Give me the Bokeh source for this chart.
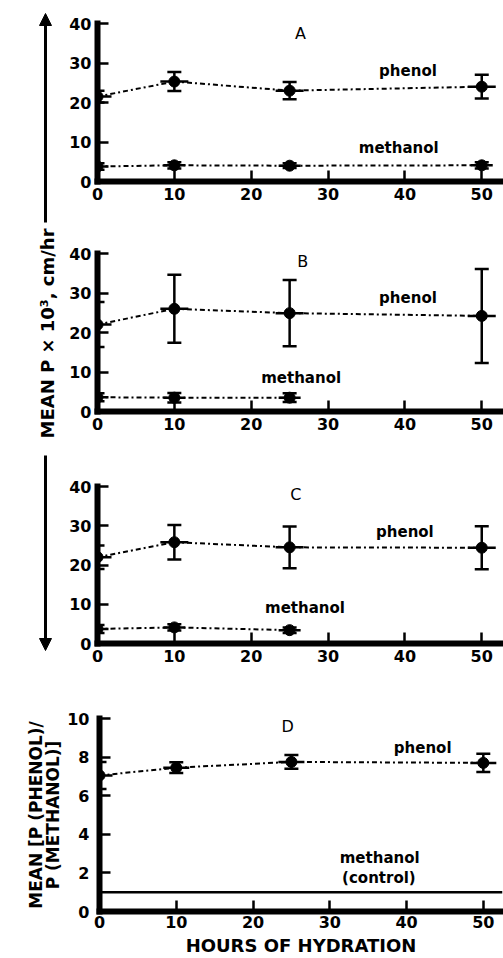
from math import pi
from bokeh.plotting import figure
from bokeh.layouts import column, row
from bokeh.models import (ColumnDataSource, Whisker, TeeHead, Label, Range1d,
                          Arrow, NormalHead, Span, FixedTicker)
from bokeh.embed import file_html
from bokeh.resources import INLINE

FONT = "DejaVu Sans"

# ---------------- data ----------------
hours = [0, 10, 25, 50]
hours_short = [0, 10, 25]

x_ticks = [0, 10, 20, 30, 40, 50]
perm_ticks = [0, 10, 20, 30, 40]
ratio_ticks = [0, 2, 4, 6, 8, 10]

a_phenol = [21.5, 25.3, 23.0, 24.0]
a_phenol_err = [1.5, 2.4, 2.2, 3.0]
a_methanol = [3.8, 4.1, 4.0, 4.1]
a_methanol_err = [0.8, 0.8, 0.6, 0.8]

b_phenol = [22.0, 26.0, 24.9, 24.2]
b_phenol_err = [5.7, 8.6, 8.4, 11.9]
b_methanol = [3.6, 3.5, 3.5]
b_methanol_err = [1.0, 1.2, 1.1]

c_phenol = [22.0, 25.8, 24.5, 24.4]
c_phenol_err = [3.0, 4.4, 5.3, 5.5]
c_methanol = [3.7, 4.1, 3.4]
c_methanol_err = [1.0, 0.8, 0.7]

d_ratio = [7.05, 7.45, 7.75, 7.7]
d_ratio_err = [0.7, 0.28, 0.36, 0.47]
d_control = 1.0


def panel(width, height, bl, bt, bb, x_end, y_end, yticks):
    p = figure(width=width, height=height, title=None,
               x_range=Range1d(0, x_end), y_range=Range1d(0, y_end),
               output_backend="svg", toolbar_location=None,
               min_border_left=bl, min_border_right=1,
               min_border_top=bt, min_border_bottom=bb)
    p.grid.visible = False
    p.outline_line_color = None
    p.background_fill_color = "white"
    p.border_fill_color = "white"
    for ax in (p.xaxis[0], p.yaxis[0]):
        ax.axis_line_width = 6
        ax.axis_line_cap = "square"
        ax.axis_line_color = "black"
        ax.major_tick_in = 11
        ax.major_tick_out = 0
        ax.major_tick_line_width = 2.5
        ax.major_tick_line_color = "black"
        ax.minor_tick_line_color = None
        ax.major_label_text_font = FONT
        ax.major_label_text_font_style = "bold"
        ax.major_label_text_font_size = "16px"
        ax.major_label_text_color = "black"
    p.xaxis.ticker = FixedTicker(ticks=x_ticks)
    p.yaxis.ticker = FixedTicker(ticks=yticks)
    p.xaxis.major_label_standoff = 6
    p.yaxis.major_label_standoff = 6
    return p


def series(p, x, y, err, dash_size):
    src = ColumnDataSource(dict(x=x, y=y,
                                lo=[v - e for v, e in zip(y, err)],
                                hi=[v + e for v, e in zip(y, err)]))
    p.line("x", "y", source=src, line_dash="5 3 2 3", line_width=2, color="black")
    p.scatter("x", "y", source=src, marker="dash", size=dash_size,
              line_width=2.5, color="black")
    p.add_layout(Whisker(source=src, base="x", lower="lo", upper="hi",
                         dimension="height", line_width=2.5, line_color="black",
                         upper_head=TeeHead(size=14, line_width=2.5, line_color="black"),
                         lower_head=TeeHead(size=14, line_width=2.5, line_color="black")))
    p.scatter("x", "y", source=src, size=11, color="black")


def note(p, x, y, text, size="15px", style="bold"):
    p.add_layout(Label(x=x, y=y, text=text, text_align="center",
                       text_baseline="middle", text_font=FONT,
                       text_font_style=style, text_font_size=size,
                       text_color="black"))


X_END = 52.7
pa = panel(439, 230, 33, 23, 49, X_END, 40, perm_ticks)
series(pa, hours, a_phenol, a_phenol_err, 28)
series(pa, hours, a_methanol, a_methanol_err, 22)
note(pa, 26.4, 37.5, "A", "16px", "normal")
note(pa, 40.4, 27.9, "phenol")
note(pa, 39.2, 8.4, "methanol")

pb = panel(439, 232, 33, 23, 51, X_END, 40, perm_ticks)
series(pb, hours, b_phenol, b_phenol_err, 28)
series(pb, hours_short, b_methanol, b_methanol_err, 22)
note(pb, 26.7, 38.0, "B", "16px", "normal")
note(pb, 40.4, 28.8, "phenol")
note(pb, 26.5, 8.4, "methanol")

pc = panel(439, 238, 33, 24, 57, X_END, 40, perm_ticks)
series(pc, hours, c_phenol, c_phenol_err, 28)
series(pc, hours_short, c_methanol, c_methanol_err, 22)
note(pc, 25.8, 37.9, "C", "16px", "normal")
note(pc, 40.0, 28.5, "phenol")
note(pc, 27.0, 9.1, "methanol")

pd = panel(503, 258, 99, 18, 47, 52.5, 10, ratio_ticks)
series(pd, hours, d_ratio, d_ratio_err, 26)
pd.add_layout(Span(location=d_control, dimension="width", line_color="black", line_width=2.5))
note(pd, 24.5, 9.6, "D", "16px", "normal")
note(pd, 42.1, 8.46, "phenol")
note(pd, 36.5, 2.75, "methanol")
note(pd, 36.4, 1.76, "(control)")
pd.xaxis.major_label_standoff = 4
pd.yaxis.major_label_standoff = 10
pd.xaxis.axis_label = "HOURS OF HYDRATION"
pd.xaxis.axis_label_standoff = 4
pd.xaxis.axis_label_text_font = FONT
pd.xaxis.axis_label_text_font_style = "bold"
pd.xaxis.axis_label_text_font_size = "18px"
pd.xaxis.axis_label_text_color = "black"
pd.yaxis.axis_label = "MEAN [P (PHENOL)/\nP (METHANOL)]"
pd.yaxis.axis_label_standoff = 1
pd.yaxis.axis_label_text_font = FONT
pd.yaxis.axis_label_text_font_style = "bold"
pd.yaxis.axis_label_text_font_size = "17px"
pd.yaxis.axis_label_text_line_height = 0.85
pd.yaxis.axis_label_text_color = "black"

# left strip with shared label and arrows for panels A-C
left = figure(width=64, height=700, title=None, x_range=Range1d(0, 64),
              y_range=Range1d(0, 700), output_backend="svg",
              toolbar_location=None, min_border=0,
              x_axis_type=None, y_axis_type=None)
left.outline_line_color = None
left.background_fill_color = "white"
left.border_fill_color = "white"
left.add_layout(Arrow(end=NormalHead(size=12, fill_color="black", line_color="black"),
                      x_start=45, y_start=478, x_end=45, y_end=687,
                      line_width=3, line_color="black"))
left.add_layout(Arrow(end=NormalHead(size=12, fill_color="black", line_color="black"),
                      x_start=45, y_start=245, x_end=45, y_end=50,
                      line_width=3, line_color="black"))
left.add_layout(Label(x=47, y=367, text="MEAN P × 10³, cm/hr", angle=pi / 2,
                      text_align="center", text_baseline="middle",
                      text_font=FONT, text_font_style="bold",
                      text_font_size="18px", text_color="black"))

layout = column(row(left, column(pa, pb, pc)), pd)
open("out.html", "w").write(file_html(layout, INLINE))
